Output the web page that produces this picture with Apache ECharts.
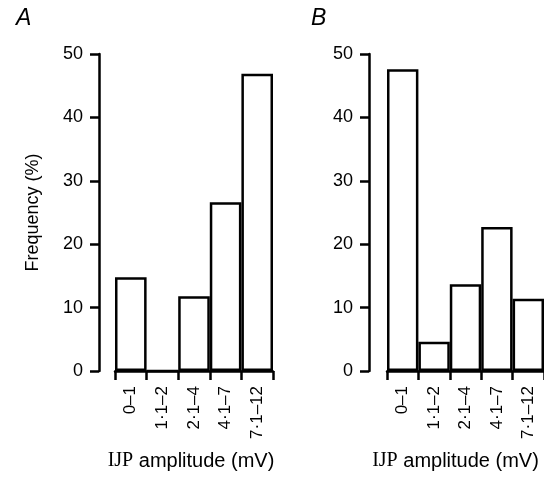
<!DOCTYPE html>
<html>
<head>
<meta charset="utf-8">
<script src="https://cdn.jsdelivr.net/npm/echarts@6/dist/echarts.min.js"></script>
<style>
html,body{margin:0;padding:0;background:#fff;}
#c{width:544px;height:480px;}
</style>
</head>
<body>
<div id="c"></div>
<script>
const categories = ['0–1', '1·1–2', '2·1–4', '4·1–7', '7·1–12'];
const freqA = [14.8, 0, 11.8, 26.6, 46.9];
const freqB = [47.6, 4.6, 13.7, 22.7, 11.4];
const yMin = 0, yMax = 50, yStep = 10;
const panelLabels = ['A', 'B'];
const xName = '{s|IJP} amplitude (mV)';
const yName = 'Frequency (%)';

const FONT = '"Liberation Sans", Arial, Helvetica, sans-serif';
const chart = echarts.init(document.getElementById('c'), null, {renderer: 'canvas'});

function xAxisCfg(idx, padRight) {
  return {
    type: 'category', gridIndex: idx, data: categories, boundaryGap: true,
    axisLine: {show: true, lineStyle: {color: '#000', width: 2.5}},
    axisTick: {show: true, length: 9, lineStyle: {color: '#000', width: 2.5}},
    axisLabel: {rotate: 90, margin: 15, fontSize: 17, color: '#000', fontFamily: FONT, interval: 0},
    splitLine: {show: false},
    name: xName, nameLocation: 'middle', nameGap: 80,
    nameTextStyle: {fontSize: 20, color: '#000', fontFamily: FONT, padding: [0, padRight, 0, 0],
      rich: {s: {fontSize: 20, color: '#000', fontFamily: '"Liberation Serif", "Times New Roman", serif'}}}
  };
}
function yAxisCfg(idx, offset, withName) {
  const o = {
    type: 'value', gridIndex: idx, min: yMin, max: yMax, interval: yStep, offset: offset,
    axisLine: {show: true, lineStyle: {color: '#000', width: 2.5}},
    axisTick: {show: true, length: 9, lineStyle: {color: '#000', width: 2.5}},
    axisLabel: {margin: 16, fontSize: 18, color: '#000', fontFamily: FONT},
    splitLine: {show: false}
  };
  if (withName) {
    o.name = yName; o.nameLocation = 'middle'; o.nameGap = 57;
    o.nameTextStyle = {fontSize: 18, color: '#000', fontFamily: FONT};
  }
  return o;
}
function barSeries(idx, data) {
  return {
    type: 'bar', xAxisIndex: idx, yAxisIndex: idx, data: data,
    barWidth: '100%', barCategoryGap: '0%',
    itemStyle: {color: '#fff', borderColor: '#000', borderWidth: 2.5},
    emphasis: {disabled: true}, animation: false
  };
}

chart.setOption({
  backgroundColor: '#fff',
  animation: false,
  title: [
    {text: panelLabels[0], left: 11, top: 2, textStyle: {fontSize: 23, fontStyle: 'italic', fontWeight: 'normal', color: '#000', fontFamily: FONT}},
    {text: panelLabels[1], left: 306, top: 2, textStyle: {fontSize: 23, fontStyle: 'italic', fontWeight: 'normal', color: '#000', fontFamily: FONT}}
  ],
  grid: [
    {left: 115, top: 54, width: 158, height: 317},
    {left: 387, top: 54, width: 158, height: 317}
  ],
  xAxis: [xAxisCfg(0, 6), xAxisCfg(1, 20)],
  yAxis: [yAxisCfg(0, 16, true), yAxisCfg(1, 18, false)],
  series: [barSeries(0, freqA), barSeries(1, freqB)]
});
</script>
</body>
</html>
